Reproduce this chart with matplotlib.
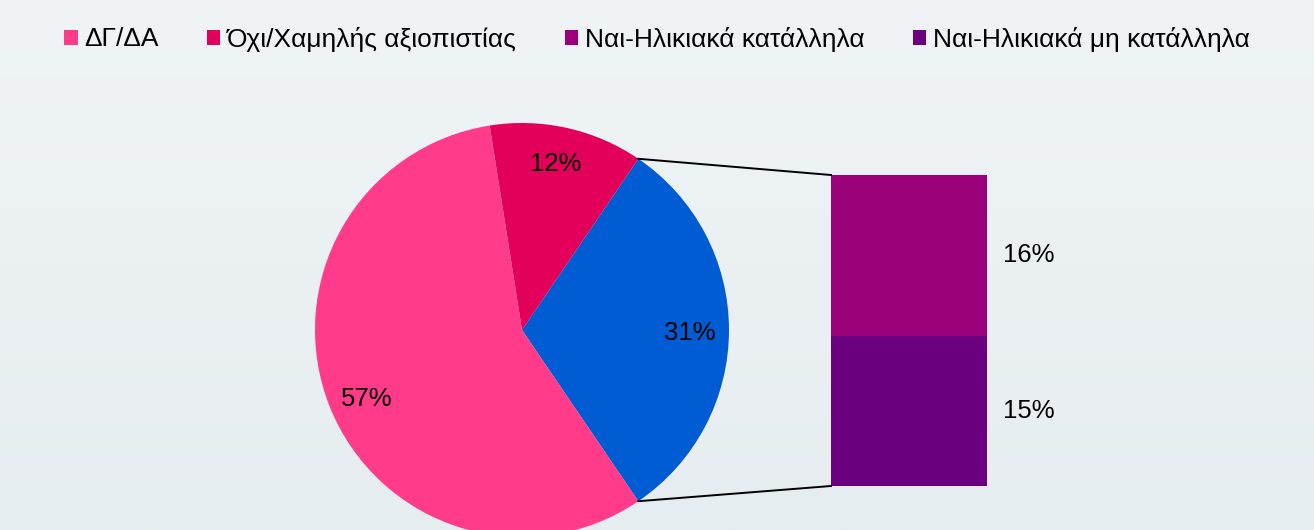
import numpy as np
import matplotlib.pyplot as plt
from matplotlib.patches import Patch

plt.rcParams['font.family'] = ['Liberation Sans', 'DejaVu Sans']

# data
pie_labels = ['Ναι', 'Όχι/Χαμηλής αξιοπιστίας', 'ΔΓ/ΔΑ']
pie_values = [31, 12, 57]
pie_colors = ['#005CD3', '#E2005A', '#FF3B8A']

bar_labels = ['Ναι-Ηλικιακά μη κατάλληλα', 'Ναι-Ηλικιακά κατάλληλα']
bar_values = [15, 16]
bar_colors = ['#6A007F', '#990079']

legend_labels = ['ΔΓ/ΔΑ', 'Όχι/Χαμηλής αξιοπιστίας',
                 'Ναι-Ηλικιακά κατάλληλα', 'Ναι-Ηλικιακά μη κατάλληλα']
legend_colors = ['#FF3B8A', '#E2005A', '#990079', '#6A007F']

W, H = 1314, 530
fig = plt.figure(figsize=(W / 100, H / 100), dpi=100)
ax = fig.add_axes([0, 0, 1, 1])

# background gradient
grad = np.linspace(0, 1, 256).reshape(-1, 1)
top = np.array([240, 244, 246]) / 255
bot = np.array([230, 237, 240]) / 255
img = top + (bot - top) * grad[:, :, None]
ax.imshow(img, extent=[0, W, 0, H], aspect='auto', origin='upper', zorder=0)

# pie
cx, cy, r = 522, H - 330, 207
half = pie_values[0] / 100 * 360 / 2
wedges, texts, autotexts = ax.pie(
    pie_values, colors=pie_colors, startangle=-half, counterclock=True,
    center=(cx, cy), radius=r, autopct='%.0f%%', pctdistance=0.82,
    textprops={'fontsize': 18.5, 'color': 'black'},
    wedgeprops={'linewidth': 0}, frame=True)
# small nudges so labels sit like the original
x, y = autotexts[2].get_position()
autotexts[2].set_position((x + 3, y - 7))
x, y = autotexts[0].get_position()
autotexts[0].set_position((x - 2, y - 3))
x, y = autotexts[1].get_position()
autotexts[1].set_position((x - 3, y))

# bar
scale = 311 / sum(bar_values)
bx, bw, by = 831, 156, H - 486
bottom = by
for v, c in zip(bar_values, bar_colors):
    ax.bar(bx + bw / 2, v * scale, width=bw, bottom=bottom, color=c,
           linewidth=0, zorder=2)
    ax.text(bx + bw + 16, bottom + v * scale / 2, f'{v}%', fontsize=18.5,
            va='center', ha='left')
    bottom += v * scale

# connector lines
w = wedges[0]
t1, t2 = np.deg2rad(w.theta1), np.deg2rad(w.theta2)
ax.plot([cx + r * np.cos(t2), bx], [cy + r * np.sin(t2), bottom],
        color='black', lw=1.4, zorder=3)
ax.plot([cx + r * np.cos(t1), bx], [cy + r * np.sin(t1), by],
        color='black', lw=1.4, zorder=3)

ax.set_xlim(0, W)
ax.set_ylim(0, H)
ax.axis('off')

handles = [Patch(facecolor=c, edgecolor='none') for c in legend_colors]
fig.legend(handles, legend_labels, loc='center', bbox_to_anchor=(0.5, 1 - 39 / H),
           ncol=4, frameon=False, fontsize=19, handlelength=0.5,
           handleheight=0.5, handletextpad=0.24, columnspacing=1.85)

fig.savefig('out.png', dpi=100)
